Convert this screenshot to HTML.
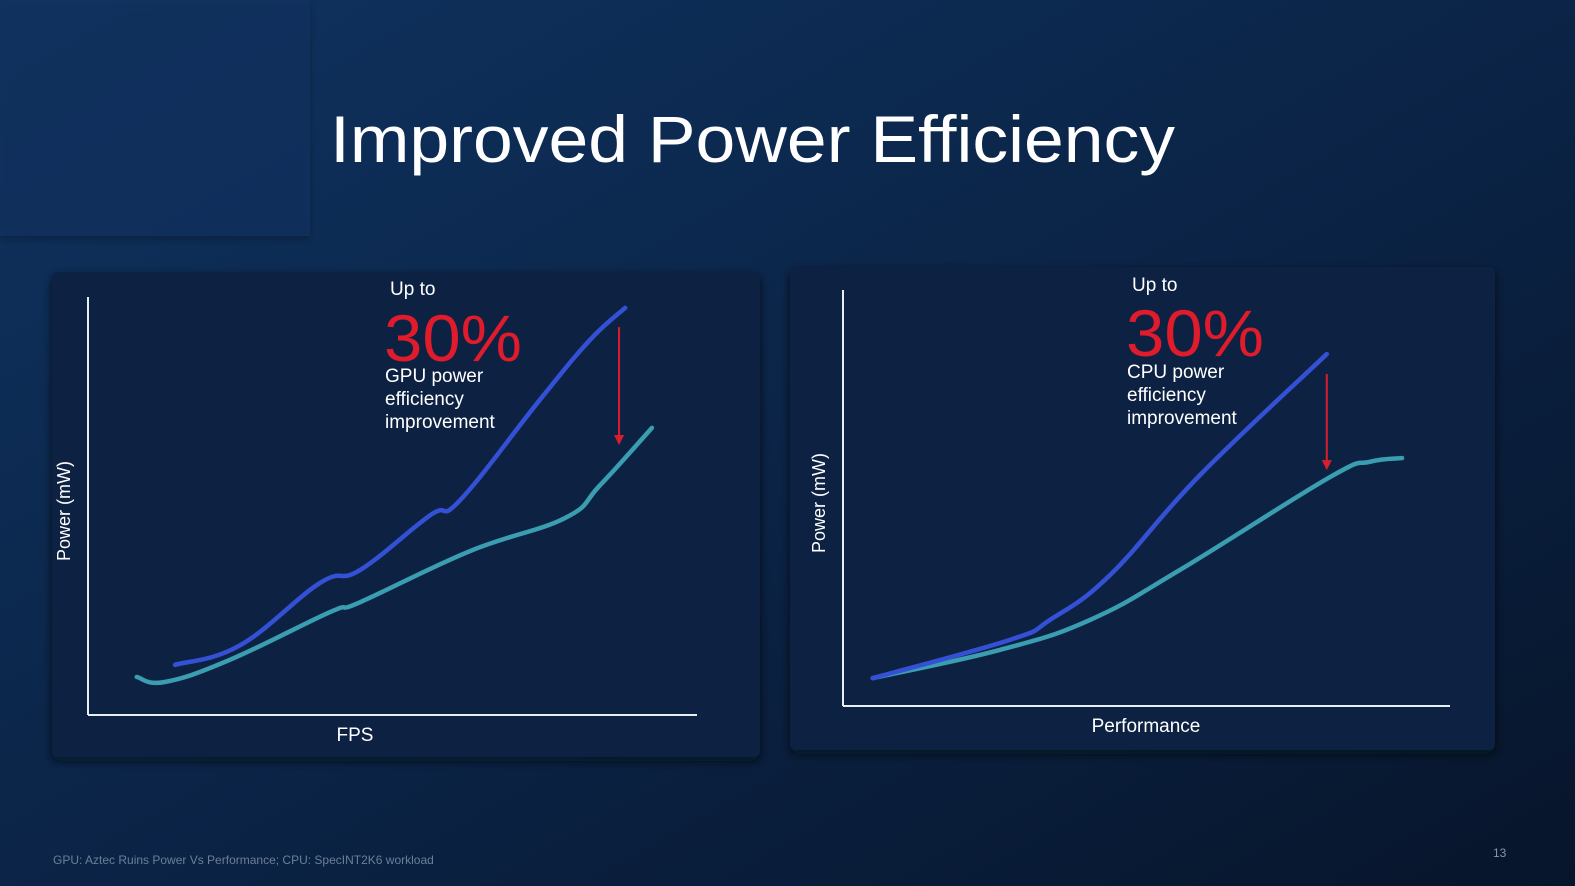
<!DOCTYPE html>
<html><head><meta charset="utf-8"><style>
html,body{margin:0;padding:0;width:1575px;height:886px;overflow:hidden;background:#0a1f3d}
svg{display:block}
</style></head><body>
<svg id="slide" width="1575" height="886" viewBox="0 0 1575 886" xmlns="http://www.w3.org/2000/svg" font-family="Liberation Sans, sans-serif">
<defs>
<linearGradient id="bg" x1="0" y1="0" x2="1" y2="1">
<stop offset="0" stop-color="#0f3360"/><stop offset="0.5" stop-color="#0b2447"/><stop offset="1" stop-color="#07152b"/>
</linearGradient>
<filter id="sh" x="-5%" y="-5%" width="110%" height="115%"><feDropShadow dx="0" dy="4" stdDeviation="5" flood-color="#020a18" flood-opacity="0.7"/></filter>
<filter id="sh2" x="-5%" y="-5%" width="110%" height="115%"><feDropShadow dx="0" dy="4" stdDeviation="4" flood-color="#020a18" flood-opacity="0.4"/></filter>
</defs>
<rect x="0" y="0" width="1575" height="886" fill="url(#bg)"/>
<rect x="0" y="0" width="310" height="236" fill="#0f3360" fill-opacity="0.6" filter="url(#sh2)"/>
<text x="330" y="162" font-size="66" fill="#ffffff" textLength="845" lengthAdjust="spacingAndGlyphs">Improved Power Efficiency</text>

<rect x="52" y="272" width="708" height="485" rx="6" fill="#0b2442" filter="url(#sh)"/>
<rect x="790" y="267" width="705" height="483" rx="6" fill="#0b2442" filter="url(#sh)"/>

<g id="gpu"></g>
<g id="cpu"></g>

<text x="390" y="295" font-size="19" fill="#fff">Up to</text>
<text x="384" y="361" font-size="66" fill="#e01b2c" textLength="138" lengthAdjust="spacingAndGlyphs">30%</text>
<text font-size="19" fill="#fff"><tspan x="385" y="382">GPU power</tspan><tspan x="385" y="405">efficiency</tspan><tspan x="385" y="428">improvement</tspan></text>

<text x="1132" y="291" font-size="19" fill="#fff">Up to</text>
<text x="1126" y="356" font-size="66" fill="#e01b2c" textLength="138" lengthAdjust="spacingAndGlyphs">30%</text>
<text font-size="19" fill="#fff"><tspan x="1127" y="378">CPU power</tspan><tspan x="1127" y="401">efficiency</tspan><tspan x="1127" y="424">improvement</tspan></text>

<text x="53" y="864" font-size="12" fill="#6b7f99">GPU: Aztec Ruins Power Vs Performance; CPU: SpecINT2K6 workload</text>
<text x="1493" y="857" font-size="12" fill="#8595ab">13</text>
</svg>
<script>
// GPU chart data (normalized 0-100 units)
const gpuOldX = [14.3, 25, 38.1, 44.7, 56.2, 61.1, 74.2, 82.4, 88.2];
const gpuOldY = [12, 16.7, 31.6, 34.7, 47.8, 51.4, 75.4, 89.7, 97.4];
const gpuNewX = [8, 12.6, 23.3, 39.7, 44.7, 62.7, 78.3, 84.1, 92.6];
const gpuNewY = [9.1, 7.9, 13.2, 24.6, 27.0, 39.2, 47.1, 55.0, 68.7];
const gpuArrowX = [87.2];
const gpuArrowY = [92.8, 64.6];
// CPU chart data
const cpuOldX = [4.9, 27.5, 34.1, 44, 58.8, 79.7];
const cpuOldY = [6.7, 15.9, 20.7, 31.5, 55.5, 84.6];
const cpuNewX = [4.9, 25.9, 40.7, 55.5, 80.2, 86.8, 92.1];
const cpuNewY = [6.7, 13.5, 20.7, 32.7, 55.0, 58.7, 59.6];
const cpuArrowX = [79.7];
const cpuArrowY = [79.8, 56.7];

const NS = 'http://www.w3.org/2000/svg';
function mk(tag, attrs, parent){const e=document.createElementNS(NS,tag);for(const k in attrs)e.setAttribute(k,attrs[k]);parent.appendChild(e);return e;}
function smooth(pts){
  let d='M'+pts[0][0]+','+pts[0][1];
  for(let i=0;i<pts.length-1;i++){
    const p0=pts[i-1]||pts[i],p1=pts[i],p2=pts[i+1],p3=pts[i+2]||p2;
    const c1=[p1[0]+(p2[0]-p0[0])/5,p1[1]+(p2[1]-p0[1])/5];
    const c2=[p2[0]-(p3[0]-p1[0])/5,p2[1]-(p3[1]-p1[1])/5];
    d+=' C'+c1[0]+','+c1[1]+' '+c2[0]+','+c2[1]+' '+p2[0]+','+p2[1];
  }
  return d;
}
function chart(gid, ax, oldX, oldY, newX, newY, arrX, arrY, xlabel, ylabelX, xlabelX){
  const g=document.getElementById(gid);
  const sx=v=>ax.x0+(ax.x1-ax.x0)*v/100;
  const sy=v=>ax.y0-(ax.y0-ax.y1)*v/100;
  let e=mk('line',{x1:ax.x0,y1:ax.y1,x2:ax.x0,y2:ax.y0,stroke:'#e8eef5','stroke-width':2},g);
  
  
  e=mk('line',{x1:ax.x0,y1:ax.y0,x2:ax.x1,y2:ax.y0,stroke:'#e8eef5','stroke-width':2},g);
  
  
  e=mk('text',{x:xlabelX,y:ax.y0+26,'font-size':19,fill:'#fff','text-anchor':'middle'},g);
  e.textContent=xlabel;
  
  
  const cy=(ax.y0+ax.y1)/2+5;
  e=mk('text',{x:ylabelX,y:cy,'font-size':18,fill:'#fff','text-anchor':'middle',transform:'rotate(-90 '+ylabelX+' '+cy+')'},g);
  e.textContent='Power (mW)';
  
  
  e=mk('path',{d:smooth(newX.map((x,i)=>[sx(x),sy(newY[i])])),fill:'none',stroke:'#3a9db0','stroke-width':4.5,'stroke-linecap':'round'},g);
  
  
  e=mk('path',{d:smooth(oldX.map((x,i)=>[sx(x),sy(oldY[i])])),fill:'none',stroke:'#3451d6','stroke-width':4.5,'stroke-linecap':'round'},g);
  
  
  const axp=sx(arrX[0]),ya=sy(arrY[0]),yb=sy(arrY[1]);
  e=mk('line',{x1:axp,y1:ya,x2:axp,y2:yb-8,stroke:'#d91d2e','stroke-width':2},g);
  
  
  e=mk('polygon',{points:(axp-5)+','+(yb-10)+' '+(axp+5)+','+(yb-10)+' '+axp+','+yb,fill:'#d91d2e'},g);
  
  
}
chart('gpu',{x0:88,x1:697,y0:715,y1:297},gpuOldX,gpuOldY,gpuNewX,gpuNewY,gpuArrowX,gpuArrowY,'FPS',70,355);
chart('cpu',{x0:843,x1:1450,y0:706,y1:290},cpuOldX,cpuOldY,cpuNewX,cpuNewY,cpuArrowX,cpuArrowY,'Performance',825,1146);
</script>
</body></html>
